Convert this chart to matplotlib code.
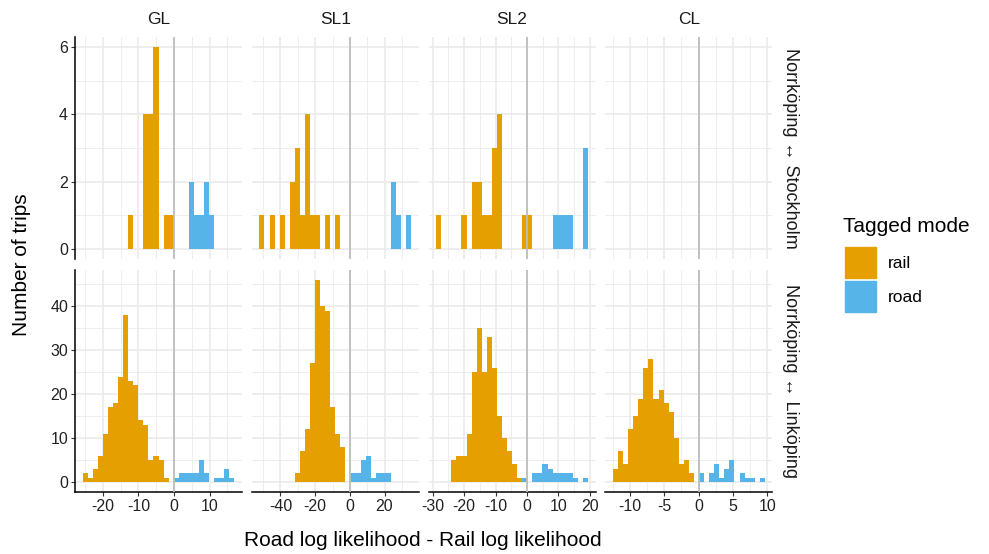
import numpy as np
import matplotlib
matplotlib.use("Agg")
import matplotlib.pyplot as plt
from matplotlib.patches import Rectangle

plt.rcParams["font.family"] = ["Liberation Sans", "DejaVu Sans"]

# facets
methods = ["GL", "SL1", "SL2", "CL"]
routes = ["Norrköping ↔ Stockholm", "Norrköping ↔ Linköping"]
modes = ["rail", "road"]
colors = {"rail": "#E69F00", "road": "#56B4E9"}

# histogram bins per column (30 bins each): left edge and bin width
bin_start = {"GL": -25.7, "SL1": -52.17, "SL2": -28.9, "CL": -12.45}
bin_width = {"GL": 1.423, "SL1": 2.918, "SL2": 1.61, "CL": 0.736}

# counts per bin, top row (Norrköping <-> Stockholm)
top_rail = {
    "GL":  [0, 0, 0, 0, 0, 0, 0, 0, 0, 1, 0, 0, 4, 4, 6, 0, 1, 1, 0, 0, 0, 0, 0, 0, 0, 0, 0, 0, 0, 0],
    "SL1": [1, 0, 1, 0, 1, 0, 2, 3, 1, 4, 1, 1, 0, 1, 0, 1, 0, 0, 0, 0, 0, 0, 0, 0, 0, 0, 0, 0, 0, 0],
    "SL2": [1, 0, 0, 0, 0, 1, 0, 2, 2, 1, 1, 3, 4, 0, 0, 0, 0, 1, 1, 0, 0, 0, 0, 0, 0, 0, 0, 0, 0, 0],
    "CL":  [0] * 30,
}
top_road = {
    "GL":  [0, 0, 0, 0, 0, 0, 0, 0, 0, 0, 0, 0, 0, 0, 0, 0, 0, 0, 0, 0, 0, 2, 1, 1, 2, 1, 0, 0, 0, 0],
    "SL1": [0, 0, 0, 0, 0, 0, 0, 0, 0, 0, 0, 0, 0, 0, 0, 0, 0, 0, 0, 0, 0, 0, 0, 0, 0, 0, 2, 1, 0, 1],
    "SL2": [0, 0, 0, 0, 0, 0, 0, 0, 0, 0, 0, 0, 0, 0, 0, 0, 0, 0, 0, 0, 0, 0, 0, 1, 1, 1, 1, 0, 0, 3],
    "CL":  [0] * 30,
}
# counts per bin, bottom row (Norrköping <-> Linköping)
bot_rail = {
    "GL":  [2, 1, 3, 6, 11, 17, 18, 24, 38, 23, 22, 14, 13, 5, 6, 5, 1, 0, 0, 0, 0, 0, 0, 0, 0, 0, 0, 0, 0, 0],
    "SL1": [0, 0, 0, 0, 0, 0, 0, 2, 7, 12, 27, 46, 40, 39, 17, 11, 8, 0, 0, 0, 0, 0, 0, 0, 0, 0, 0, 0, 0, 0],
    "SL2": [0, 0, 0, 5, 6, 6, 11, 25, 35, 25, 33, 26, 15, 10, 7, 4, 1, 0, 0, 0, 0, 0, 0, 0, 0, 0, 0, 0, 0, 0],
    "CL":  [3, 7, 4, 12, 15, 19, 26, 28, 19, 21, 18, 16, 10, 4, 5, 2, 0, 0, 0, 0, 0, 0, 0, 0, 0, 0, 0, 0, 0, 0],
}
bot_road = {
    "GL":  [0, 0, 0, 0, 0, 0, 0, 0, 0, 0, 0, 0, 0, 0, 0, 0, 0, 0, 1, 2, 2, 2, 2, 5, 2, 0, 1, 1, 3, 1],
    "SL1": [0, 0, 0, 0, 0, 0, 0, 0, 0, 0, 0, 0, 0, 0, 0, 0, 0, 0, 2, 2, 5, 6, 1, 2, 2, 2, 0, 0, 0, 0],
    "SL2": [0, 0, 0, 0, 0, 0, 0, 0, 0, 0, 0, 0, 0, 0, 0, 0, 0, 1, 0, 2, 2, 4, 3, 2, 2, 2, 2, 1, 0, 1],
    "CL":  [0, 0, 0, 0, 0, 0, 0, 0, 0, 0, 0, 0, 0, 0, 0, 0, 0, 2, 0, 2, 4, 1, 3, 5, 0, 2, 1, 1, 0, 1],
}

x_major = {
    "GL": [-20, -10, 0, 10],
    "SL1": [-40, -20, 0, 20],
    "SL2": [-30, -20, -10, 0, 10, 20],
    "CL": [-10, -5, 0, 5, 10],
}
y_major = [[0, 2, 4, 6], [0, 10, 20, 30, 40]]

W, H = 989, 554
fig = plt.figure(figsize=(W / 100, H / 100), dpi=100)

panel_left = [75, 251.8, 428.6, 605.4]
panel_w = 167
row_top = [37, 270]
panel_h = 222

grid_col = "#EBEBEB"


def minor_of(major):
    step = major[1] - major[0]
    return [m - step / 2 for m in major] + [major[-1] + step / 2]


for r in range(2):
    rail_src = top_rail if r == 0 else bot_rail
    road_src = top_road if r == 0 else bot_road
    ymax = max(max(np.array(rail_src[m]) + np.array(road_src[m])) for m in methods)
    ypad = 0.05 * ymax
    for c, m in enumerate(methods):
        ax = fig.add_axes([panel_left[c] / W, 1 - (row_top[r] + panel_h) / H,
                           panel_w / W, panel_h / H])
        edges = bin_start[m] + bin_width[m] * np.arange(31)
        lo, hi = edges[0], edges[-1]
        xpad = 0.05 * (hi - lo)
        ax.set_xlim(lo - xpad, hi + xpad)
        ax.set_ylim(-ypad, ymax + ypad)

        # grid
        for v in minor_of(x_major[m]):
            ax.axvline(v, color=grid_col, lw=0.6, zorder=0)
        for v in minor_of(y_major[r]):
            ax.axhline(v, color=grid_col, lw=0.6, zorder=0)
        for v in x_major[m]:
            ax.axvline(v, color=grid_col, lw=1.2, zorder=0)
        for v in y_major[r]:
            ax.axhline(v, color=grid_col, lw=1.2, zorder=0)

        road = np.array(road_src[m])
        rail = np.array(rail_src[m])
        ax.bar(edges[:-1], road, width=bin_width[m], align="edge",
               color=colors["road"], lw=0, zorder=2)
        ax.bar(edges[:-1], rail, width=bin_width[m], align="edge", bottom=road,
               color=colors["rail"], lw=0, zorder=2)
        ax.axvline(0, color="#BEBEBE", lw=1.3, zorder=3)

        for s in ax.spines.values():
            s.set_visible(False)
        ax.set_xticks(x_major[m])
        ax.set_yticks(y_major[r])
        ax.tick_params(length=3, width=0.8, color="#333333", labelsize=11.5,
                       labelcolor="#222222", pad=2)
        if c == 0:
            ax.spines["left"].set_visible(True)
            ax.spines["left"].set_linewidth(1.1)
        else:
            ax.tick_params(axis="y", left=False, labelleft=False)
        if r == 1:
            ax.spines["bottom"].set_visible(True)
            ax.spines["bottom"].set_linewidth(1.1)
            ax.set_xticklabels([f"{v:g}" for v in x_major[m]])
        else:
            ax.tick_params(axis="x", bottom=False, labelbottom=False)
        ax.set_facecolor("none")

        if r == 0:
            fig.text((panel_left[c] + panel_w / 2) / W, 1 - 20 / H, m,
                     ha="center", va="center", fontsize=12.5, color="#1a1a1a")
    fig.text(791 / W, 1 - (row_top[r] + panel_h / 2) / H, routes[r],
             rotation=-90, ha="center", va="center", fontsize=13, color="#1a1a1a")

fig.text(22 / W, 1 - 265 / H, "Number of trips", rotation=90,
         ha="center", va="center", fontsize=15)
fig.text(423 / W, 1 - 541 / H, "Road log likelihood - Rail log likelihood",
         ha="center", va="center", fontsize=15)

# legend
fig.text(843 / W, 1 - 227 / H, "Tagged mode", ha="left", va="center", fontsize=15)
for i, mode in enumerate(modes):
    y0 = 247 + i * 34
    fig.patches.append(Rectangle((845 / W, 1 - (y0 + 31) / H), 31 / W, 31 / H,
                                 transform=fig.transFigure, color=colors[mode]))
    fig.text(888 / W, 1 - (y0 + 16) / H, mode, ha="left", va="center", fontsize=12.5)

fig.savefig("out.png", dpi=100)
